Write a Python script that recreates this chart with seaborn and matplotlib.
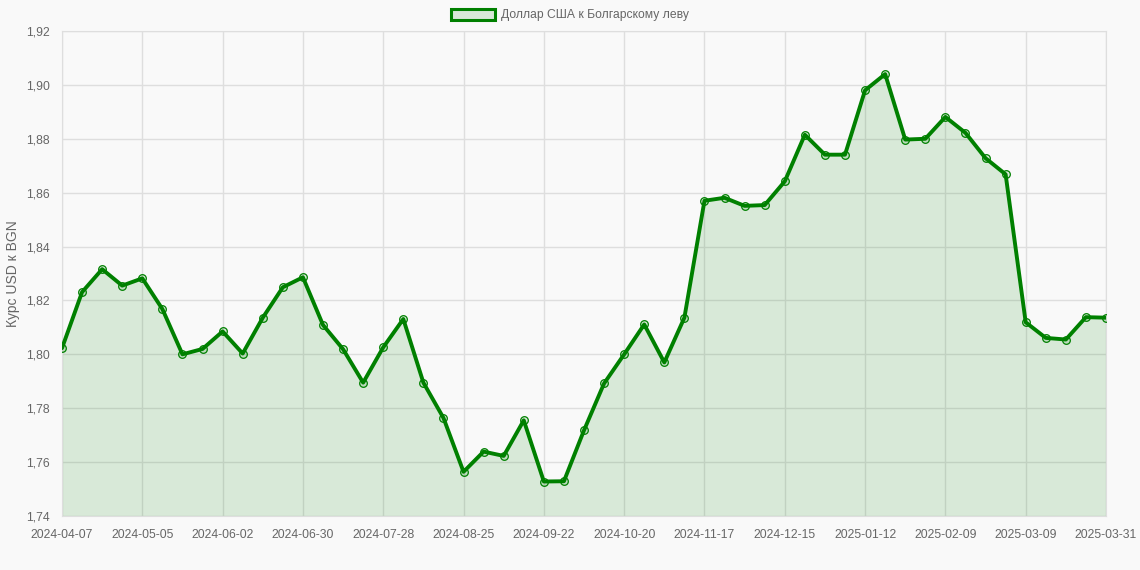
import pandas as pd
import seaborn as sns
import matplotlib.pyplot as plt
from matplotlib.patches import Patch
from matplotlib.ticker import FuncFormatter

# weekly points (last one is the current day)
dates = list(pd.date_range("2024-04-07", "2025-03-30", freq="7D").strftime("%Y-%m-%d")) + ["2025-03-31"]
rates = [1.8023, 1.8231, 1.8316, 1.8255, 1.8282, 1.8168, 1.8000, 1.8020, 1.8085, 1.8003,
         1.8136, 1.8249, 1.8286, 1.8109, 1.8019, 1.7895, 1.8026, 1.8131, 1.7895, 1.7764,
         1.7564, 1.7639, 1.7623, 1.7755, 1.7528, 1.7529, 1.7718, 1.7892, 1.8000, 1.8111,
         1.7970, 1.8136, 1.8570, 1.8581, 1.8551, 1.8554, 1.8642, 1.8815, 1.8741, 1.8741,
         1.8980, 1.9040, 1.8797, 1.8800, 1.8881, 1.8822, 1.8728, 1.8668, 1.8119, 1.8061,
         1.8055, 1.8138, 1.8136]
series_name = "Доллар США к Болгарскому леву"
y_label = "Курс USD к BGN"

df = pd.DataFrame({"idx": range(len(dates)), "date": dates, "rate": rates})

bg = "#f9f9f9"
green = "#008000"
gridc = "#dedede"

sns.set_style("whitegrid", {"axes.facecolor": bg, "figure.facecolor": bg,
                            "grid.color": gridc, "axes.edgecolor": gridc})
plt.rcParams["font.family"] = ["Liberation Sans", "DejaVu Sans"]

fig = plt.figure(figsize=(11.4, 5.7), dpi=100)
ax = fig.add_axes([62 / 1140, 1 - 516 / 570, (1106 - 62) / 1140, (516 - 31) / 570])

ax.fill_between(df["idx"], df["rate"], 1.74, color=green, alpha=0.13, linewidth=0, zorder=2)
sns.lineplot(data=df, x="idx", y="rate", ax=ax, color=green, linewidth=2.8,
             marker="o", markersize=5.5, markerfacecolor=(0, 0.5, 0, 0.12), markeredgecolor=green,
             markeredgewidth=0.9, zorder=3)

ax.set_xlim(0, len(dates) - 1)
ax.set_ylim(1.74, 1.92)
ax.set_yticks([1.74 + 0.02 * i for i in range(10)])
ax.yaxis.set_major_formatter(FuncFormatter(lambda v, p: f"{v:.2f}".replace(".", ",")))
tick_idx = list(range(0, len(dates), 4))
if tick_idx[-1] != len(dates) - 1:
    tick_idx.append(len(dates) - 1)
ax.set_xticks(tick_idx)
ax.set_xticklabels([dates[i] for i in tick_idx])

ax.grid(True, color=gridc, linewidth=1, zorder=0)
ax.set_axisbelow(True)
for s in ax.spines.values():
    s.set_color(gridc)
ax.tick_params(axis="both", length=6, color=gridc, labelcolor="#666666", labelsize=8.7, pad=3)
ax.set_xlabel("")
ax.set_ylabel(y_label, color="#666666", fontsize=10, labelpad=4)

handle = Patch(facecolor="#d8e8d8", edgecolor=green, linewidth=2.2, label=series_name)
fig.legend(handles=[handle], loc="center", bbox_to_anchor=(0.5, 1 - 15 / 570), frameon=False,
           fontsize=8.7, labelcolor="#666666", handlelength=3.6, handleheight=1.0, handletextpad=0.5)

fig.savefig("out.png", dpi=100, facecolor=bg)
